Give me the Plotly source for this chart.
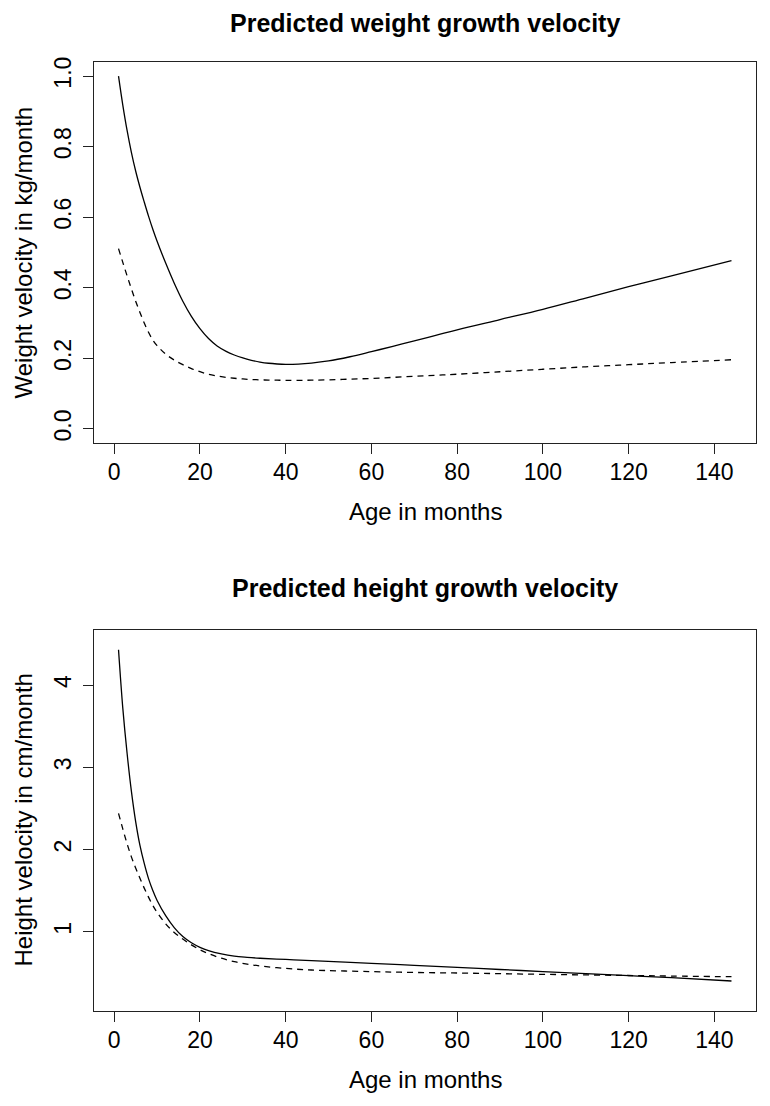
import plotly.graph_objects as go

# ---------------- data ----------------
age_w = [1, 2, 3, 4, 5, 6, 7, 8, 9, 10, 12, 14, 16, 18, 20, 22, 24, 26, 28, 30,
         32, 34, 36, 38, 40, 43, 46, 50, 55, 60, 65, 70, 75, 80, 90, 100, 110, 120, 130, 144]
weight_solid = [1.000, 0.918, 0.846, 0.784, 0.731, 0.685, 0.643, 0.603, 0.566, 0.532,
                0.470, 0.413, 0.362, 0.319, 0.284, 0.256, 0.235, 0.2205, 0.2095, 0.201,
                0.1945, 0.1895, 0.186, 0.184, 0.183, 0.1838, 0.1865, 0.1925, 0.2045, 0.219,
                0.234, 0.2495, 0.265, 0.281, 0.310, 0.339, 0.371, 0.403, 0.434, 0.477]
weight_dashed = [0.511, 0.472, 0.434, 0.397, 0.362, 0.330, 0.300, 0.274, 0.252, 0.236,
                 0.212, 0.195, 0.182, 0.171, 0.162, 0.155, 0.150, 0.146, 0.1435, 0.1415,
                 0.140, 0.139, 0.1383, 0.138, 0.1378, 0.1377, 0.138, 0.139, 0.141, 0.143,
                 0.146, 0.149, 0.152, 0.155, 0.162, 0.169, 0.176, 0.182, 0.188, 0.196]

age_h = [1, 2, 3, 4, 5, 6, 7, 8, 9, 10, 12, 14, 16, 18, 20, 22, 25, 28, 31, 34,
         40, 46, 60, 70, 80, 90, 100, 110, 120, 130, 144]
height_solid = [4.43, 3.72, 3.17, 2.71, 2.34, 2.05, 1.83, 1.645, 1.50, 1.38,
                1.195, 1.05, 0.94, 0.865, 0.81, 0.77, 0.73, 0.703, 0.688, 0.677,
                0.662, 0.648, 0.615, 0.59, 0.565, 0.54, 0.515, 0.49, 0.465, 0.44, 0.40]
height_dashed = [2.44, 2.25, 2.07, 1.91, 1.775, 1.65, 1.53, 1.42, 1.32, 1.235,
                 1.095, 0.99, 0.91, 0.84, 0.78, 0.733, 0.677, 0.635, 0.605, 0.583,
                 0.553, 0.534, 0.514, 0.504, 0.497, 0.489, 0.481, 0.474, 0.467, 0.46, 0.452]

x_ticks = [0, 20, 40, 60, 80, 100, 120, 140]
w_ticks = [0.0, 0.2, 0.4, 0.6, 0.8, 1.0]
w_ticktext = ["0.0", "0.2", "0.4", "0.6", "0.8", "1.0"]
h_ticks = [1, 2, 3, 4]

title_top = "Predicted weight growth velocity"
title_bottom = "Predicted height growth velocity"
xlab = "Age in months"
ylab_top = "Weight velocity in kg/month"
ylab_bottom = "Height velocity in cm/month"

# ---------------- figure ----------------
FONT = "Liberation Sans, Arial, Helvetica, sans-serif"
OFF = 8                      # page body margin of the html page
W, H = 770 - OFF, 1106 - OFF
ML, MR, MT, MB = 94 - OFF, 14, 62 - OFF, 95
PH = H - MT - MB  # plot height in px


def py(p):
    """window pixel y (from top) -> paper fraction"""
    return (H - MB - (p - OFF)) / PH


line_solid = dict(color="black", width=1.3)
line_dash = dict(color="black", width=1.3, dash="6px,5px")

fig = go.Figure()
fig.add_trace(go.Scatter(x=age_w, y=weight_solid, mode="lines", line=line_solid,
                         line_shape="spline", xaxis="x", yaxis="y"))
fig.add_trace(go.Scatter(x=age_w, y=weight_dashed, mode="lines", line=line_dash,
                         line_shape="spline", xaxis="x", yaxis="y"))
fig.add_trace(go.Scatter(x=age_h, y=height_solid, mode="lines", line=line_solid,
                         line_shape="spline", xaxis="x2", yaxis="y2"))
fig.add_trace(go.Scatter(x=age_h, y=height_dashed, mode="lines", line=line_dash,
                         line_shape="spline", xaxis="x2", yaxis="y2"))

axis_common = dict(showline=True, mirror=True, linecolor="#222", linewidth=1.2,
                   showgrid=False, zeroline=False, ticks="outside", ticklen=10,
                   tickwidth=1.2, tickcolor="#222",
                   tickfont=dict(family=FONT, size=23, color="black"))

top_dom = [py(443), 1.0]
bot_dom = [0.0, py(630)]

fig.update_layout(
    width=W, height=H,
    margin=dict(l=ML, r=MR, t=MT, b=MB),
    paper_bgcolor="white", plot_bgcolor="white",
    showlegend=False,
    xaxis=dict(domain=[0, 1], anchor="y", range=[-4.72, 149.72],
               tickvals=x_ticks, ticklabelstandoff=-2, **axis_common),
    yaxis=dict(domain=top_dom, anchor="x", range=[-0.04, 1.04],
               tickvals=w_ticks, ticktext=w_ticktext, tickangle=-90,
               ticklabelstandoff=3, **axis_common),
    xaxis2=dict(domain=[0, 1], anchor="y2", range=[-4.72, 149.72],
                tickvals=x_ticks, ticklabelstandoff=-2, **axis_common),
    yaxis2=dict(domain=bot_dom, anchor="x2", range=[0.035, 4.67],
                tickvals=h_ticks, tickangle=-90, ticklabelstandoff=3, **axis_common),
)

ann = []
# main titles
ann.append(dict(text="<b>" + title_top + "</b>", x=0.5, y=py(23.4), xref="paper", yref="paper",
                xanchor="center", yanchor="middle", showarrow=False,
                font=dict(family=FONT, size=25, color="black")))
ann.append(dict(text="<b>" + title_bottom + "</b>", x=0.5, y=py(588.4), xref="paper", yref="paper",
                xanchor="center", yanchor="middle", showarrow=False,
                font=dict(family=FONT, size=25, color="black")))
# x labels
for yc in (511, 1079):
    ann.append(dict(text=xlab, x=0.5, y=py(yc), xref="paper", yref="paper",
                    xanchor="center", yanchor="middle", showarrow=False,
                    font=dict(family=FONT, size=24, color="black")))
# y labels
ann.append(dict(text=ylab_top, x=0, y=py(252.5), xref="paper", yref="paper",
                xanchor="center", yanchor="middle", xshift=-(94 - 23), textangle=-90,
                showarrow=False, font=dict(family=FONT, size=24, color="black")))
ann.append(dict(text=ylab_bottom, x=0, y=py(820.5), xref="paper", yref="paper",
                xanchor="center", yanchor="middle", xshift=-(94 - 23), textangle=-90,
                showarrow=False, font=dict(family=FONT, size=24, color="black")))
fig.update_layout(annotations=ann)

fig.write_html("out.html")
